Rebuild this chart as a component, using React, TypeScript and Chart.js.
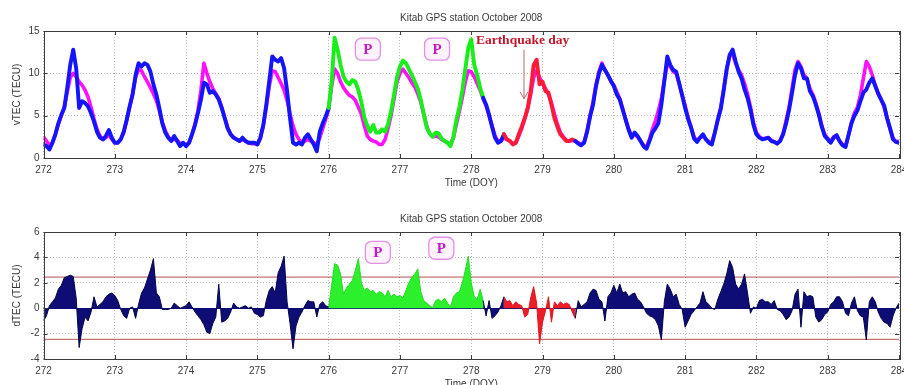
import React, { useEffect, useRef } from 'react';
import { Chart, registerables } from 'chart.js';

Chart.register(...registerables);

// ---------------- DATA ----------------
const chartTitle = 'Kitab GPS station October 2008';
const xAxisTitle = 'Time (DOY)';
const topYAxisTitle = 'vTEC (TECU)';
const bottomYAxisTitle = 'dTEC (TECU)';

const dayStart = 272;
const dayEnd = 284;
const samplesPerDay = 24; // hourly samples

const xTickValues = [272, 273, 274, 275, 276, 277, 278, 279, 280, 281, 282, 283, 284];
const topYTickValues = [0, 5, 10, 15];
const bottomYTickValues = [-4, -2, 0, 2, 4, 6];

// observed vTEC (one row per day, hourly) + final sample at 284.0
const vtecObserved: number[] = [
  1.6, 1.4, 1.0, 1.8, 2.8, 4.1, 5.1, 5.9, 8.3, 11.0, 12.8, 10.6, 5.9, 6.7, 6.5, 6.1, 5.3, 4.3, 3.1, 2.4, 2.2, 2.6, 3.3, 2.4,
  1.8, 1.8, 2.2, 3.1, 4.5, 6.1, 7.5, 9.8, 11.2, 10.8, 11.2, 11.0, 10.2, 8.7, 7.5, 5.9, 4.1, 3.0, 2.4, 2.0, 2.6, 2.0, 1.4, 1.8,
  1.4, 1.8, 2.8, 3.9, 5.3, 6.9, 8.9, 8.7, 7.7, 7.9, 7.5, 6.9, 5.9, 4.7, 3.5, 2.8, 2.4, 2.2, 2.0, 2.4, 2.0, 1.8, 1.8, 1.8,
  1.6, 2.4, 3.9, 6.3, 9.1, 12.0, 11.6, 11.4, 11.8, 10.6, 7.9, 4.7, 1.8, 1.6, 1.8, 1.6, 2.4, 2.8, 2.2, 1.6, 0.8, 3.1, 4.1, 4.9,
  5.9, 9.0, 14.2, 12.8, 11.0, 9.6, 9.0, 8.7, 9.2, 9.0, 8.0, 6.6, 4.8, 3.8, 3.1, 3.9, 3.0, 3.0, 3.4, 3.1, 4.0, 5.5, 7.5, 9.5,
  10.8, 11.5, 11.2, 10.5, 9.8, 9.0, 8.2, 6.9, 5.2, 3.6, 2.9, 2.5, 3.0, 2.9, 2.3, 2.0, 1.8, 1.4, 2.5, 4.5, 6.0, 8.0, 10.5, 13.0,
  14.0, 11.0, 9.8, 8.3, 7.1, 6.3, 5.1, 3.7, 2.4, 1.8, 2.0, 2.8, 2.2, 2.0, 1.6, 1.8, 2.8, 3.7, 4.7, 5.9, 7.9, 11.0, 11.6, 8.7,
  9.0, 7.9, 7.7, 6.3, 4.7, 3.7, 2.8, 2.4, 2.0, 2.0, 2.2, 2.0, 1.7, 1.5, 1.8, 3.1, 4.9, 6.3, 8.5, 10.0, 11.0, 10.4, 9.8, 9.1,
  8.5, 7.5, 6.9, 5.7, 4.5, 3.3, 2.4, 3.0, 2.6, 2.0, 1.4, 1.1, 2.0, 3.0, 3.5, 4.1, 6.3, 9.1, 12.0, 11.0, 10.4, 10.2, 8.8, 7.4,
  5.9, 4.6, 3.6, 2.3, 1.9, 2.4, 2.8, 2.2, 1.8, 1.6, 3.0, 4.5, 5.8, 8.0, 10.5, 12.2, 12.8, 11.4, 10.2, 9.4, 8.1, 7.1, 5.7, 3.9,
  2.8, 2.4, 2.2, 2.3, 2.4, 2.0, 1.9, 1.7, 2.0, 2.8, 4.1, 5.7, 7.7, 9.8, 11.2, 10.6, 9.4, 9.4, 7.9, 7.3, 6.3, 5.1, 3.7, 2.6,
  2.2, 1.8, 2.4, 2.7, 2.0, 1.5, 1.3, 2.7, 4.1, 5.0, 5.6, 6.7, 7.7, 8.1, 8.9, 9.4, 8.5, 7.6, 6.9, 6.2, 4.7, 3.5, 2.2, 1.9,
  1.8,
];

// reference (mean) vTEC, magenta
const vtecReference: number[] = [
  2.5, 2.0, 1.5, 1.8, 2.8, 4.0, 5.0, 6.0, 7.8, 9.5, 10.0, 9.6, 9.0, 8.6, 8.0, 7.2, 6.0, 4.6, 3.4, 2.6, 2.2, 2.4, 2.8, 2.2,
  1.8, 1.8, 2.2, 3.0, 4.4, 6.0, 7.6, 9.5, 10.5, 10.3, 9.6, 9.0, 8.3, 7.6, 6.8, 5.6, 4.2, 3.2, 2.5, 2.1, 2.2, 2.1, 1.7, 1.8,
  1.5, 1.8, 2.8, 4.0, 5.6, 8.0, 11.2, 10.0, 9.0, 8.2, 7.6, 7.0, 6.0, 4.8, 3.6, 2.8, 2.4, 2.2, 2.0, 2.2, 2.0, 1.8, 1.7, 1.7,
  1.6, 2.3, 3.8, 6.0, 8.5, 10.3, 10.2, 9.5, 8.8, 8.0, 6.8, 5.2, 3.8, 2.8, 2.2, 1.8, 2.0, 2.2, 2.0, 1.8, 1.6, 2.4, 3.5, 4.6,
  5.8, 8.5, 10.5, 10.0, 9.0, 8.3, 7.8, 7.4, 7.2, 6.8, 6.0, 5.2, 3.8, 2.6, 2.2, 2.0, 1.9, 1.6, 1.6, 2.2, 3.5, 5.0, 7.0, 9.0,
  10.0, 10.5, 10.0, 9.5, 8.9, 8.4, 7.6, 6.6, 5.2, 3.8, 2.9, 2.5, 2.6, 2.5, 2.2, 2.0, 1.8, 1.6, 2.4, 4.0, 5.5, 7.2, 9.0, 10.3,
  10.2, 9.6, 8.8, 8.0, 7.0, 6.2, 5.0, 3.8, 2.6, 2.0, 2.0, 2.4, 2.2, 2.0, 1.7, 1.8, 2.6, 3.5, 4.6, 5.8, 7.5, 9.5, 10.3, 9.5,
  8.8, 8.2, 7.5, 6.5, 5.2, 4.0, 3.0, 2.5, 2.1, 2.0, 2.1, 2.0, 1.8, 1.6, 1.9, 3.2, 5.0, 6.6, 8.6, 10.2, 11.2, 10.4, 9.8, 9.1,
  8.6, 7.8, 7.0, 5.8, 4.5, 3.4, 2.6, 2.8, 2.5, 2.0, 1.5, 1.3, 2.2, 3.4, 4.4, 5.6, 7.0, 9.2, 11.2, 10.8, 10.2, 10.0, 8.8, 7.4,
  6.2, 4.8, 3.6, 2.5, 2.0, 2.4, 2.6, 2.2, 1.9, 1.8, 3.0, 4.6, 6.0, 8.2, 10.5, 12.0, 12.3, 11.2, 10.4, 9.8, 8.8, 7.6, 6.0, 4.2,
  3.0, 2.5, 2.3, 2.3, 2.4, 2.1, 1.9, 1.7, 2.1, 2.9, 4.4, 6.0, 8.2, 10.4, 11.4, 10.8, 9.8, 9.4, 8.2, 7.5, 6.5, 5.3, 3.8, 2.8,
  2.3, 1.9, 2.5, 2.6, 2.0, 1.6, 1.4, 2.7, 4.2, 5.3, 6.0, 7.4, 9.4, 11.4, 10.8, 9.8, 8.6, 7.6, 6.9, 6.0, 4.7, 3.4, 2.3, 1.9,
  2.0,
];

// dTEC (hourly) + final sample
const dtecValues: number[] = [
  -1.0, -0.6, 0.2, 0.5, 0.8, 1.5, 1.8, 2.4, 2.5, 2.6, 2.5, 0.8, -3.1, -1.6, -0.7, -1.0, -0.3, 0.9, 0.1, 0.3, 0.5, 0.9, 1.1, 1.2,
  1.0, 0.6, -0.1, -0.6, -0.8, 0.0, 0.1, -0.8, 0.3, 1.2, 1.6, 2.3, 3.0, 3.9, 1.2, 0.9, -0.1, -0.1, -0.1, 0.0, 0.4, 0.2, 0.0, 0.1,
  0.2, 0.5, 0.1, -0.3, -0.6, -0.9, -1.3, -1.9, -2.0, -1.2, -0.7, 1.9, -1.1, -1.0, -0.8, -0.3, 0.4, 0.1, 0.0, 0.1, 0.2, 0.0, 0.1, -0.4,
  -0.5, -0.7, -0.6, 0.6, 1.4, 1.7, 1.2, 2.8, 3.3, 4.1, 0.5, -1.2, -3.2, -1.4, -0.7, -0.3, 0.2, 0.6, 0.5, 0.5, -0.7, 0.3, 0.5, 0.2,
  0.1, 1.8, 3.5, 3.4, 2.7, 1.1, 1.6, 1.9, 2.2, 3.0, 3.9, 2.0, 1.4, 1.6, 1.3, 1.4, 1.1, 1.3, 1.2, 0.9, 1.4, 0.9, 1.1, 0.9,
  1.0, 0.8, 1.4, 2.0, 2.4, 2.7, 3.1, 1.3, 0.6, 0.4, 0.2, 0.05, 0.6, 0.7, 0.5, 0.8, 0.4, 0.1, 0.9, 1.2, 1.3, 2.0, 3.0, 4.1,
  2.0, 0.9, 0.7, 1.5, 0.6, -0.6, 0.6, -0.8, -0.6, -0.3, 0.2, 0.9, 0.5, 0.6, 0.2, 0.5, 0.3, 0.2, -0.7, -0.5, 0.8, 1.7, 0.4, -2.8,
  -1.1, -0.2, 0.9, -1.1, 0.5, 0.2, 0.5, 0.3, 0.4, 0.3, -0.3, -0.8, 0.6, 0.1, 0.3, 0.5, 1.2, 1.5, 1.4, 0.7, 0.5, -1.0, 0.9, 1.2,
  1.8, 1.2, 1.9, 1.2, 1.3, 0.9, 1.1, 1.2, 0.7, 0.5, 0.1, -0.4, -0.6, -0.7, -0.9, -1.4, -2.5, 0.5, 1.9, 1.5, 0.9, 1.1, 0.3, -0.1,
  -1.5, -1.0, -0.5, -0.2, 0.1, 0.4, 1.3, 0.5, 0.3, 0.0, -0.1, 0.7, 1.3, 1.9, 2.7, 3.75, 3.2, 1.9, 1.5, 1.9, 2.7, 1.2, -0.4, 0.1,
  0.0, 0.6, 0.7, 0.5, 0.5, 0.3, 0.6, -0.1, -0.2, -0.5, -0.9, -0.7, -0.2, 1.1, 1.5, -1.5, 1.3, 0.9, 1.0, 0.9, -0.7, -1.1, -0.9, -0.5,
  -0.3, 0.3, 0.5, 0.9, 0.9, 0.5, -0.4, -0.6, 0.4, 0.9, -0.2, -0.6, -0.7, -2.5, 0.5, 0.9, 0.5, -0.3, -0.8, -1.1, -1.2, -1.5, -0.6, 0.0,
  0.4,
];

const dtecUpperBound = 2.45;
const dtecLowerBound = -2.45;

// highlighted intervals (DOY)
const precursorSpan: [number, number] = [276.0, 278.1667];
const quakeSpan: [number, number] = [278.4583, 279.4583];

// annotation anchors (data coordinates)
const topPMarks: [number, number][] = [[276.55, 12.85], [277.52, 12.85]];
const bottomPMarks: [number, number][] = [[276.69, 4.4], [277.58, 4.72]];
const quakeLabel = 'Earthquake day';
const quakeLabelAt: [number, number] = [278.72, 13.9];
const quakeArrow: [number, number, number] = [278.74, 12.8, 7.0];

// ---------------- STYLE ----------------
const BLUE = '#1414ff';
const MAGENTA = '#ff10ff';
const GREEN = '#18ee18';
const RED = '#ff1a38';
const NAVY = '#0d0d75';
const FILL_GREEN = '#2cf02c';
const FILL_RED = '#ee1c26';
const TEXT = '#3a3a3a';
const SANS = '"Liberation Sans", Arial, sans-serif';
const SERIF = '"Liberation Serif", "Times New Roman", serif';

const times = vtecObserved.map((_, i) => dayStart + i / samplesPerDay);
const EPS = 0.005;
const inside = (t: number, s: [number, number]) => t > s[0] + EPS && t < s[1] - EPS;
const within = (t: number, s: [number, number]) => t >= s[0] - EPS && t <= s[1] + EPS;

function decorPlugin(cfg: {
  yTitle: string;
  yTicks: number[];
  marks: [number, number][];
  quake: boolean;
}) {
  return {
    id: 'decor',
    afterDatasetsDraw(chart: any) {
      const { ctx, chartArea: a, scales } = chart;
      const xs = scales.x;
      const ys = scales.y;
      ctx.save();
      // frame
      ctx.strokeStyle = '#3c3c3c';
      ctx.lineWidth = 1;
      ctx.strokeRect(Math.round(a.left) + 0.5, Math.round(a.top) + 0.5, Math.round(a.right - a.left), Math.round(a.bottom - a.top));
      // inner tick marks
      ctx.beginPath();
      xTickValues.forEach((v) => {
        const px = Math.round(xs.getPixelForValue(v)) + 0.5;
        ctx.moveTo(px, a.bottom);
        ctx.lineTo(px, a.bottom - 4);
        ctx.moveTo(px, a.top);
        ctx.lineTo(px, a.top + 4);
      });
      cfg.yTicks.forEach((v) => {
        const py = Math.round(ys.getPixelForValue(v)) + 0.5;
        ctx.moveTo(a.left, py);
        ctx.lineTo(a.left + 4, py);
        ctx.moveTo(a.right, py);
        ctx.lineTo(a.right - 4, py);
      });
      ctx.stroke();

      // P boxes
      cfg.marks.forEach(([mx, my]) => {
        const cx = xs.getPixelForValue(mx);
        const cy = ys.getPixelForValue(my);
        const w = 25;
        const h = 22;
        ctx.beginPath();
        ctx.roundRect(cx - w / 2, cy - h / 2, w, h, 6);
        ctx.fillStyle = '#fdf2fd';
        ctx.fill();
        ctx.strokeStyle = '#e290e2';
        ctx.lineWidth = 1.3;
        ctx.stroke();
        ctx.fillStyle = '#c21cc2';
        ctx.font = `bold 15px ${SERIF}`;
        ctx.textAlign = 'center';
        ctx.textBaseline = 'middle';
        ctx.fillText('P', cx, cy + 1);
      });

      if (cfg.quake) {
        const ax = xs.getPixelForValue(quakeArrow[0]);
        const y1 = ys.getPixelForValue(quakeArrow[1]);
        const y2 = ys.getPixelForValue(quakeArrow[2]);
        ctx.strokeStyle = '#b86a6a';
        ctx.lineWidth = 1;
        ctx.beginPath();
        ctx.moveTo(ax, y1);
        ctx.lineTo(ax, y2);
        ctx.moveTo(ax - 4, y2 - 7);
        ctx.lineTo(ax, y2);
        ctx.lineTo(ax + 4, y2 - 7);
        ctx.stroke();
        ctx.fillStyle = '#c4142c';
        ctx.font = `bold 13.5px ${SERIF}`;
        ctx.textAlign = 'center';
        ctx.textBaseline = 'middle';
        ctx.fillText(quakeLabel, xs.getPixelForValue(quakeLabelAt[0]), ys.getPixelForValue(quakeLabelAt[1]));
      }

      // titles
      ctx.fillStyle = TEXT;
      ctx.font = `10px ${SANS}`;
      ctx.textAlign = 'center';
      ctx.textBaseline = 'middle';
      const cx = (a.left + a.right) / 2;
      ctx.fillText(chartTitle, cx, a.top - 13);
      ctx.fillText(xAxisTitle, cx, a.bottom + 25);
      ctx.save();
      ctx.translate(17, (a.top + a.bottom) / 2);
      ctx.rotate(-Math.PI / 2);
      ctx.fillText(cfg.yTitle, 0, 0);
      ctx.restore();
      ctx.restore();
    },
  };
}

function axes(yMin: number, yMax: number, yTicks: number[], xHeight: number, zeroSolid: boolean) {
  return {
    x: {
      type: 'linear',
      min: dayStart,
      max: dayEnd,
      afterBuildTicks: (s: any) => {
        s.ticks = xTickValues.map((v) => ({ value: v }));
      },
      afterFit: (s: any) => {
        s.height = xHeight;
        s.paddingLeft = 0;
        s.paddingRight = 0;
      },
      ticks: { autoSkip: false, maxRotation: 0, padding: 6, color: TEXT, font: { size: 10, family: SANS }, callback: (v: any) => String(v) },
      grid: { drawTicks: false, color: '#b8b8b8', lineWidth: 1 },
      border: { display: false, dash: [1, 2] },
    },
    y: {
      min: yMin,
      max: yMax,
      afterBuildTicks: (s: any) => {
        s.ticks = yTicks.map((v) => ({ value: v }));
      },
      afterFit: (s: any) => {
        s.width = 43.5;
        s.paddingTop = 0;
        s.paddingBottom = 0;
      },
      ticks: { padding: 4, color: TEXT, font: { size: 10, family: SANS }, callback: (v: any) => String(v) },
      grid: {
        drawTicks: false,
        color: (c: any) => (zeroSolid && c.tick && c.tick.value === 0 ? NAVY : '#b8b8b8'),
        lineWidth: 1,
      },
      border: { display: false, dash: (c: any) => (zeroSolid && c.tick && c.tick.value === 0 ? [] : [1, 2]) },
    },
  };
}

export default function App() {
  const topRef = useRef<HTMLCanvasElement>(null);
  const botRef = useRef<HTMLCanvasElement>(null);

  useEffect(() => {
    Chart.defaults.font.family = SANS;
    const obsPts = vtecObserved.map((v, i) => ({ x: times[i], y: v }));
    const refPts = vtecReference.map((v, i) => ({ x: times[i], y: v }));
    const segColor = (c: any) => {
      const mid = (c.p0.parsed.x + c.p1.parsed.x) / 2;
      if (mid > precursorSpan[0] && mid < precursorSpan[1]) return GREEN;
      if (mid > quakeSpan[0] && mid < quakeSpan[1]) return RED;
      return BLUE;
    };

    const top = new Chart(topRef.current!, {
      type: 'line',
      data: {
        datasets: [
          {
            data: obsPts,
            borderColor: BLUE,
            segment: { borderColor: segColor },
            borderWidth: 3.9,
            pointRadius: 0,
            tension: 0,
            borderJoinStyle: 'round',
            borderCapStyle: 'round',
            order: 1,
          } as any,
          {
            data: refPts,
            borderColor: MAGENTA,
            borderWidth: 3.6,
            pointRadius: 0,
            tension: 0,
            borderJoinStyle: 'round',
            order: 2,
          } as any,
        ],
      },
      options: {
        animation: false,
        responsive: false,
        maintainAspectRatio: false,
        events: [],
        layout: { padding: { left: 0, right: 5, top: 31, bottom: 0 } },
        plugins: { legend: { display: false }, tooltip: { enabled: false }, title: { display: false } },
        scales: axes(0, 15, topYTickValues, 37, false) as any,
      },
      plugins: [decorPlugin({ yTitle: topYAxisTitle, yTicks: topYTickValues, marks: topPMarks, quake: true })],
    });

    const mask = (pick: (t: number) => boolean) =>
      dtecValues.map((v, i) => ({ x: times[i], y: pick(times[i]) ? v : null }));
    const navyPts = mask((t) => !inside(t, precursorSpan) && !inside(t, quakeSpan));
    const greenPts = mask((t) => within(t, precursorSpan));
    const redPts = mask((t) => within(t, quakeSpan));
    const areaDs = (data: any[], fillColor: string, lineColor: string) => ({
      data,
      borderColor: lineColor,
      backgroundColor: fillColor,
      borderWidth: 1,
      pointRadius: 0,
      tension: 0,
      fill: 'origin',
      spanGaps: false,
    });

    const bot = new Chart(botRef.current!, {
      type: 'line',
      data: {
        datasets: [
          areaDs(navyPts, NAVY, '#05054a'),
          areaDs(greenPts, FILL_GREEN, '#22dd22'),
          areaDs(redPts, FILL_RED, '#dd1520'),
          {
            data: [{ x: dayStart, y: dtecUpperBound }, { x: dayEnd, y: dtecUpperBound }],
            borderColor: '#b85050',
            borderWidth: 1,
            pointRadius: 0,
            fill: false,
          },
          {
            data: [{ x: dayStart, y: dtecLowerBound }, { x: dayEnd, y: dtecLowerBound }],
            borderColor: '#b85050',
            borderWidth: 1,
            pointRadius: 0,
            fill: false,
          },
        ] as any,
      },
      options: {
        animation: false,
        responsive: false,
        maintainAspectRatio: false,
        events: [],
        layout: { padding: { left: 0, right: 5, top: 37, bottom: 0 } },
        plugins: { legend: { display: false }, tooltip: { enabled: false }, title: { display: false } },
        scales: axes(-4, 6, bottomYTickValues, 26, true) as any,
      },
      plugins: [decorPlugin({ yTitle: bottomYAxisTitle, yTicks: bottomYTickValues, marks: bottomPMarks, quake: false })],
    });

    return () => {
      top.destroy();
      bot.destroy();
    };
  }, []);

  return (
    <div style={{ position: 'absolute', left: 0, top: 0, width: 904, height: 385, background: '#fff', overflow: 'hidden' }}>
      <canvas ref={topRef} width={904} height={195} style={{ position: 'absolute', left: 0, top: 0, width: 904, height: 195 }} />
      <canvas ref={botRef} width={904} height={190} style={{ position: 'absolute', left: 0, top: 195, width: 904, height: 190 }} />
    </div>
  );
}
